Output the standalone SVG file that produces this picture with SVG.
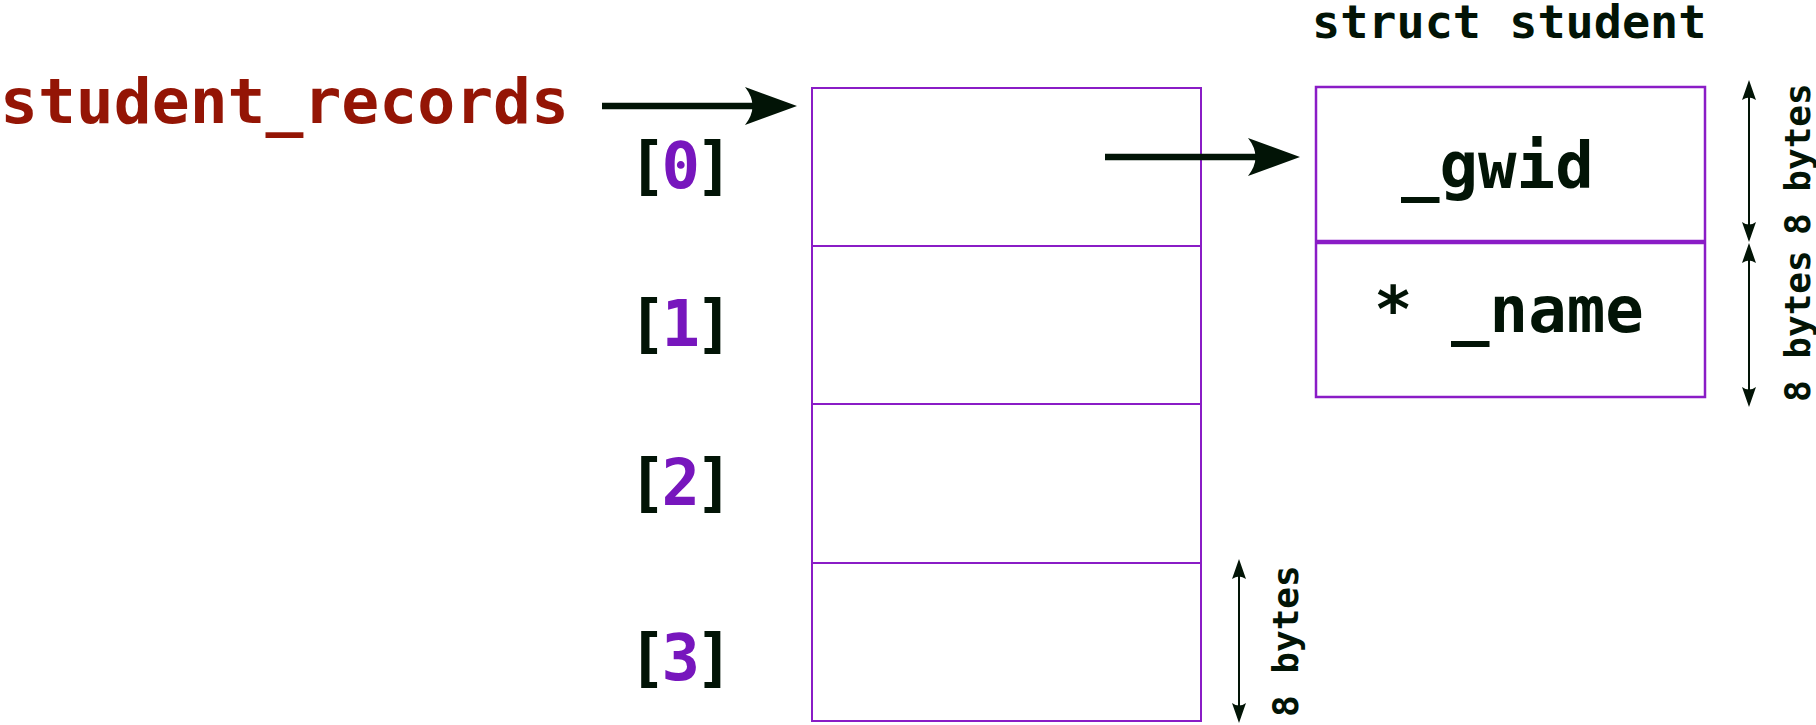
<svg xmlns="http://www.w3.org/2000/svg" width="1816" height="725" viewBox="0 0 1816 725">
<style>
  text { font-family: "DejaVu Sans Mono", "Liberation Mono", monospace; font-weight: bold; }
  .dark { fill: #021406; }
  .red { fill: #941505; }
  .pur { fill: #7716bd; }
  .box { fill: none; stroke: #8a1cc6; stroke-width: 2; }
  .big { stroke: #021406; stroke-width: 6.5; fill: none; }
  .thin { stroke: #021406; stroke-width: 2; fill: none; }
  .head { fill: #021406; stroke: none; }
  .idx { letter-spacing: -5px; }
</style>

<g id="title-records">
  <text x="0" y="123" font-size="63" class="red">student_records</text>
</g>

<g id="array">
  <rect x="812" y="88" width="389" height="633" class="box"/>
  <line x1="812" y1="246" x2="1201" y2="246" class="box"/>
  <line x1="812" y1="404" x2="1201" y2="404" class="box"/>
  <line x1="812" y1="563" x2="1201" y2="563" class="box"/>
</g>

<g id="index-labels" font-size="64">
  <text x="628" y="188" class="dark idx">[<tspan class="pur">0</tspan>]</text>
  <text x="628" y="346" class="dark idx">[<tspan class="pur">1</tspan>]</text>
  <text x="628" y="505" class="dark idx">[<tspan class="pur">2</tspan>]</text>
  <text x="628" y="680" class="dark idx">[<tspan class="pur">3</tspan>]</text>
</g>

<g id="struct-title">
  <text x="1312" y="38" font-size="46.8" class="dark">struct student</text>
</g>

<g id="struct-box">
  <rect x="1316" y="87" width="389" height="310" class="box" style="stroke-width:2.5"/>
  <line x1="1316" y1="242" x2="1705" y2="242" class="box" style="stroke-width:4.5"/>
  <text x="1401" y="188" font-size="64" class="dark">_gwid</text>
  <text x="1374" y="332" font-size="64" class="dark">* _name</text>
</g>

<g id="size-labels" font-size="36">
  <text transform="translate(1298,717) rotate(-90)" class="dark">8 bytes</text>
  <text transform="translate(1810,402) rotate(-90)" class="dark">8 bytes</text>
  <text transform="translate(1810,235) rotate(-90)" class="dark">8 bytes</text>
</g>

<g id="connectors">
  <line x1="602" y1="106" x2="760" y2="106" class="big"/>
  <path d="M797,106 L745,87 Q760,106 745,125 Z" class="head"/>
  <line x1="1105" y1="157" x2="1263" y2="157" class="big"/>
  <path d="M1300,157 L1248,138 Q1263,157 1248,176 Z" class="head"/>

  <line x1="1749" y1="90" x2="1749" y2="232" class="thin"/>
  <path d="M1749,80 L1742,100 Q1749,95 1756,100 Z" class="head"/>
  <path d="M1749,242 L1742,222 Q1749,227 1756,222 Z" class="head"/>

  <line x1="1749" y1="253" x2="1749" y2="397" class="thin"/>
  <path d="M1749,243 L1742,263 Q1749,258 1756,263 Z" class="head"/>
  <path d="M1749,407 L1742,387 Q1749,392 1756,387 Z" class="head"/>

  <line x1="1239" y1="569" x2="1239" y2="713" class="thin"/>
  <path d="M1239,559 L1232,579 Q1239,574 1246,579 Z" class="head"/>
  <path d="M1239,723 L1232,703 Q1239,708 1246,703 Z" class="head"/>
</g>
</svg>
